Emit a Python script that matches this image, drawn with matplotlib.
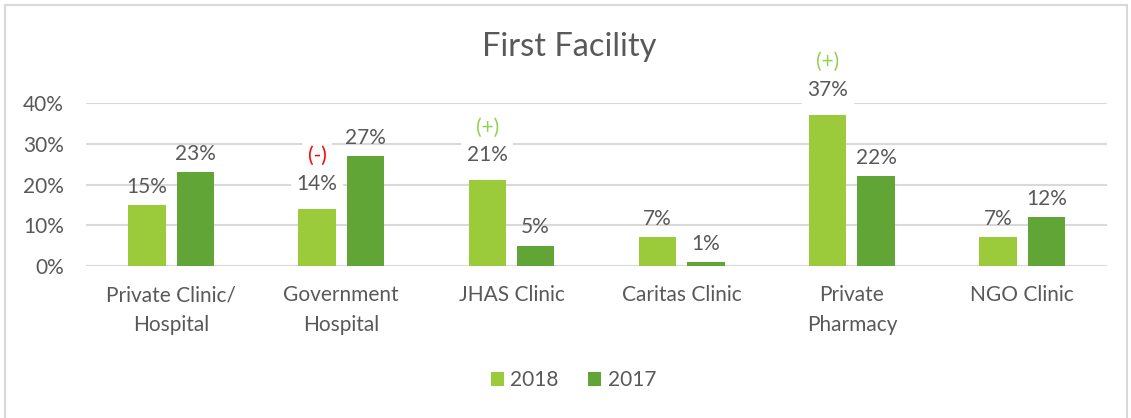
import numpy as np
import matplotlib.pyplot as plt
from matplotlib.patches import Rectangle

plt.rcParams['font.family'] = ['Lato', 'DejaVu Sans']

categories = ["Private Clinic/\nHospital", "Government\nHospital", "JHAS Clinic",
              "Caritas Clinic", "Private\nPharmacy", "NGO Clinic"]
share_2018 = [15, 14, 21, 7, 37, 7]
share_2017 = [23, 27, 5, 1, 22, 12]
# change markers shown above the 2018 values
markers_2018 = ["", "(-)", "(+)", "", "(+)", ""]
marker_colors = {"(+)": "#92D050", "(-)": "#FF0000"}

TEXT = "#595959"
GRID = "#D9D9D9"
C2018 = "#9BCB3B"
C2017 = "#62A537"
FS = 15

fig = plt.figure(figsize=(11.31, 4.18), dpi=100)
ax = fig.add_axes([0.076, 0.3636, 0.903, 0.39])

x = np.arange(len(categories))
w = 0.22
off = 0.142
b18 = ax.bar(x - off, np.array(share_2018) / 100, w, color=C2018, label="2018", zorder=2)
b17 = ax.bar(x + off, np.array(share_2017) / 100, w, color=C2017, label="2017", zorder=2)

ax.set_xlim(-0.5, len(categories) - 0.5)
ax.set_ylim(0, 0.4)
ax.set_yticks([0, 0.1, 0.2, 0.3, 0.4])
ax.set_yticklabels([f"{int(t * 100)}%" for t in ax.get_yticks()])
ax.set_xticks(x)
ax.set_xticklabels(categories, linespacing=1.6)
ax.tick_params(axis="both", length=0, colors=TEXT, labelsize=FS)
ax.tick_params(axis="y", pad=16)
ax.tick_params(axis="x", pad=14)
ax.yaxis.grid(True, color=GRID, linewidth=1.5, zorder=0)
ax.set_axisbelow(True)
for s in ax.spines.values():
    s.set_visible(False)

for rect, v, m in zip(b18, share_2018, markers_2018):
    cx = rect.get_x() + rect.get_width() / 2
    top = rect.get_height()
    if m:
        # marked values sit in their own white boxes, a little higher
        box = dict(facecolor="white", edgecolor="none", pad=4)
        ax.annotate(f"{v}%", (cx, top), xytext=(0, 11), textcoords="offset points",
                    ha="center", va="bottom", fontsize=FS, color=TEXT,
                    bbox=box, clip_on=False, zorder=3)
        ax.annotate(m, (cx, top), xytext=(0, 31), textcoords="offset points",
                    ha="center", va="bottom", fontsize=FS, color=marker_colors[m],
                    bbox=box, clip_on=False, zorder=3)
    else:
        ax.annotate(f"{v}%", (cx, top), xytext=(0, 6), textcoords="offset points",
                    ha="center", va="bottom", fontsize=FS, color=TEXT,
                    clip_on=False, zorder=3)

for rect, v in zip(b17, share_2017):
    cx = rect.get_x() + rect.get_width() / 2
    ax.annotate(f"{v}%", (cx, rect.get_height()), xytext=(0, 6),
                textcoords="offset points", ha="center", va="bottom",
                fontsize=FS, color=TEXT, clip_on=False, zorder=3)

fig.text(0.503, 0.887, "First Facility", ha="center", va="center",
         fontsize=23.5, color=TEXT)

fig.legend(loc="center", bbox_to_anchor=(0.507, 0.09), ncol=2, frameon=False,
           fontsize=FS, labelcolor=TEXT, handlelength=0.65, handleheight=0.65,
           handletextpad=0.3, columnspacing=1.4)

# thin outer frame around the chart area
fig.patches.append(Rectangle((5 / 1131, -0.01), 1122 / 1131, 1 - 5 / 418 + 0.01,
                             transform=fig.transFigure, fill=False,
                             edgecolor=GRID, linewidth=1.5))

fig.savefig("out.png", dpi=100)
